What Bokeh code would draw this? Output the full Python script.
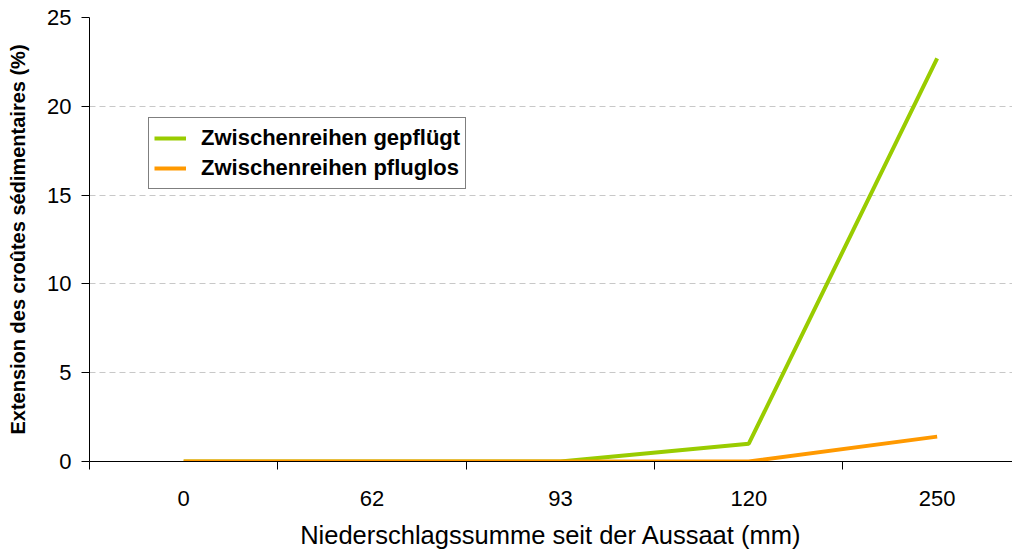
from bokeh.plotting import figure
from bokeh.models import Range1d, FixedTicker, Legend, LegendItem
from bokeh.embed import file_html
from bokeh.resources import INLINE

categories = ["0", "62", "93", "120", "250"]
gepfluegt = [0, 0, 0, 1.0, 22.7]
pfluglos = [0, 0, 0, 0, 1.4]
y_ticks = [0, 5, 10, 15, 20, 25]

FONT = "Liberation Sans"
xs = [i + 0.5 for i in range(len(categories))]

p = figure(width=1012, height=551, output_backend="svg", toolbar_location=None,
           x_range=Range1d(0, 4.9), y_range=Range1d(0, 25),
           min_border_left=89, min_border_top=17, min_border_right=0, min_border_bottom=90)
p.outline_line_color = None
p.background_fill_color = "white"

r1 = p.line(xs, gepfluegt, line_color="#99CC00", line_width=4)
r2 = p.line(xs, pfluglos, line_color="#FF9900", line_width=4)

# x axis
xa = p.xaxis[0]
xa.ticker = FixedTicker(ticks=xs, minor_ticks=list(range(len(categories) + 1)))
xa.major_label_overrides = {x: c for x, c in zip(xs, categories)}
xa.major_tick_out = 0
xa.major_tick_in = 0
xa.minor_tick_in = 0
xa.minor_tick_out = 8
xa.minor_tick_line_color = "black"
xa.axis_line_color = "black"
xa.major_label_text_font = FONT
xa.major_label_text_font_size = "22px"
xa.major_label_text_color = "black"
xa.major_label_standoff = 21
xa.axis_label = "Niederschlagssumme seit der Aussaat (mm)"
xa.axis_label_text_font = FONT
xa.axis_label_text_font_size = "25.5px"
xa.axis_label_text_font_style = "normal"
xa.axis_label_text_color = "black"
xa.axis_label_standoff = 12

# y axis
ya = p.yaxis[0]
ya.ticker = FixedTicker(ticks=y_ticks, minor_ticks=[])
ya.major_tick_out = 8
ya.major_tick_in = 0
ya.major_tick_line_color = "black"
ya.axis_line_color = "black"
ya.major_label_text_font = FONT
ya.major_label_text_font_size = "22px"
ya.major_label_text_color = "black"
ya.major_label_standoff = 10
ya.axis_label = "Extension des croûtes sédimentaires (%)"
ya.axis_label_text_font = FONT
ya.axis_label_text_font_size = "20px"
ya.axis_label_text_font_style = "bold"
ya.axis_label_text_color = "black"
ya.axis_label_standoff = 15

p.xgrid.grid_line_color = None
p.ygrid.ticker = FixedTicker(ticks=y_ticks[1:])
p.ygrid.grid_line_color = "#c8c8c8"
p.ygrid.grid_line_dash = "6 4"
p.ygrid.grid_line_width = 1

legend = Legend(items=[LegendItem(label="Zwischenreihen gepflügt", renderers=[r1]),
                       LegendItem(label="Zwischenreihen pfluglos", renderers=[r2])],
                location=(59, 272), margin=0, padding=5, spacing=0,
                glyph_width=32, glyph_height=30, label_height=30, label_standoff=15,
                label_text_font=FONT, label_text_font_size="22px",
                label_text_font_style="bold", label_text_color="black",
                border_line_color="black", border_line_width=1,
                background_fill_color="white", background_fill_alpha=1)
p.add_layout(legend, "center")

open("out.html", "w").write(file_html(p, INLINE))
